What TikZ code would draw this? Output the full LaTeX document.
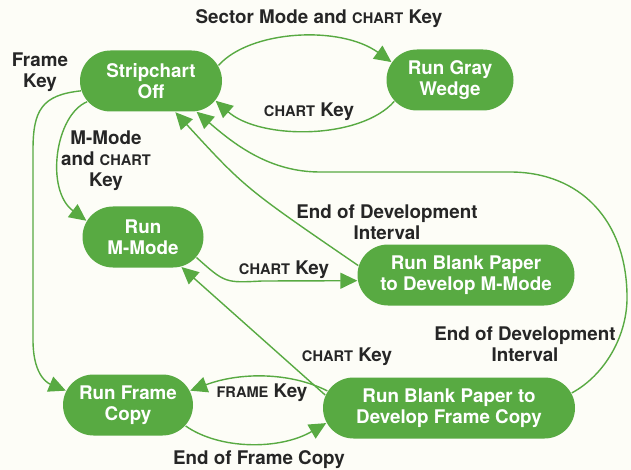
\documentclass[tikz,border=0pt]{standalone}
\usepackage{fontspec}
\setmainfont{TeX Gyre Heros}
\usepackage{tikz}
\usetikzlibrary{shapes.misc,arrows.meta}

\definecolor{hpgreen}{RGB}{88,170,66}
\definecolor{ink}{RGB}{38,38,38}
\definecolor{paper}{RGB}{253,253,247}
\newcommand{\smcap}[1]{{\fontsize{14.6}{21}\selectfont #1}}

\begin{document}
\begin{tikzpicture}[x=1pt, y=-1pt, ->, >={Triangle[length=17pt,width=16pt]},
        line width=1.4pt, draw=hpgreen, fill=hpgreen]
      \tikzstyle{state} = [rounded rectangle, fill=hpgreen, text=white, align=center,
        font=\fontsize{18.8}{21}\selectfont\bfseries, inner sep=0pt, minimum height=61pt]
      \tikzstyle{word} = [text=ink, align=center, font=\fontsize{18.8}{21}\selectfont\bfseries]
      \fill[-, paper] (0,0) rectangle (631,470);
      \useasboundingbox (0,0) rectangle (631,470);
      % states
      \node (Stripchart) [state, minimum width=142pt] at (151,81) {Stripchart\\Off};
      \node (Wedge) [state, minimum width=127pt] at (450,80) {Run Gray\\Wedge};
      \node (MMode) [state, minimum width=121pt] at (143,237) {Run\\M-Mode};
      \node (BlankM) [state, minimum width=217pt] at (466,275) {Run Blank Paper\\to Develop M-Mode};
      \node (Frame) [state, minimum width=130pt] at (128,405) {Run Frame\\Copy};
      \node (BlankF) [state, minimum width=252pt] at (449,408) {Run Blank Paper to\\Develop Frame Copy};
      % labels
      \node (sector) [word] at (319,19) {Sector Mode and \smcap{CHART} Key};
      \node (chartW) [word] at (309,112) {\smcap{CHART} Key};
      \node (framekey) [word] at (40,72) {Frame\\Key};
      \node (mmodekey) [word] at (106,161) {M-Mode\\and \smcap{CHART}\\Key};
      \node (chartM) [word] at (284,270) {\smcap{CHART} Key};
      \node (endM) [word] at (387,222) {End of Development\\Interval};
      \node (endF) [word] at (525,344) {End of Development\\Interval};
      \node (chartF) [word] at (347,357) {\smcap{CHART} Key};
      \node (frameF) [word] at (262,393) {\smcap{FRAME} Key};
      \node (endcopy) [word] at (259,460) {End of Frame Copy};
      % transitions
      \draw (Stripchart.13) .. controls (250,30) and (340,25) .. (Wedge.163);
      \draw (Wedge.201) .. controls (360,140) and (260,140) .. (Stripchart.343);
      \draw (Stripchart.188) .. controls (42,95) and (33,110) .. (33,150)
        -- (33,340) .. controls (33,372) and (45,382) .. (Frame.167);
      \draw (Stripchart.198) .. controls (55,115) and (45,190) .. (MMode.164);
      \draw (MMode.339) .. controls (225,283) .. (262,281) -- (BlankM.183);
      \draw (BlankM.175) .. controls (245,188) .. (Stripchart.308);
      \draw (BlankF.7) .. controls (605,375) and (628,335) .. (627,295)
        .. controls (626,220) and (580,172) .. (510,172) -- (320,172)
        .. controls (270,172) and (235,145) .. (Stripchart.326);
      \draw (BlankF.174) -- (MMode.322);
      \draw (BlankF.172) .. controls (290,372) and (240,372) .. (Frame.13);
      \draw (Frame.340) .. controls (220,450) and (280,450) .. (BlankF.187);
    \end{tikzpicture}
\end{document}
